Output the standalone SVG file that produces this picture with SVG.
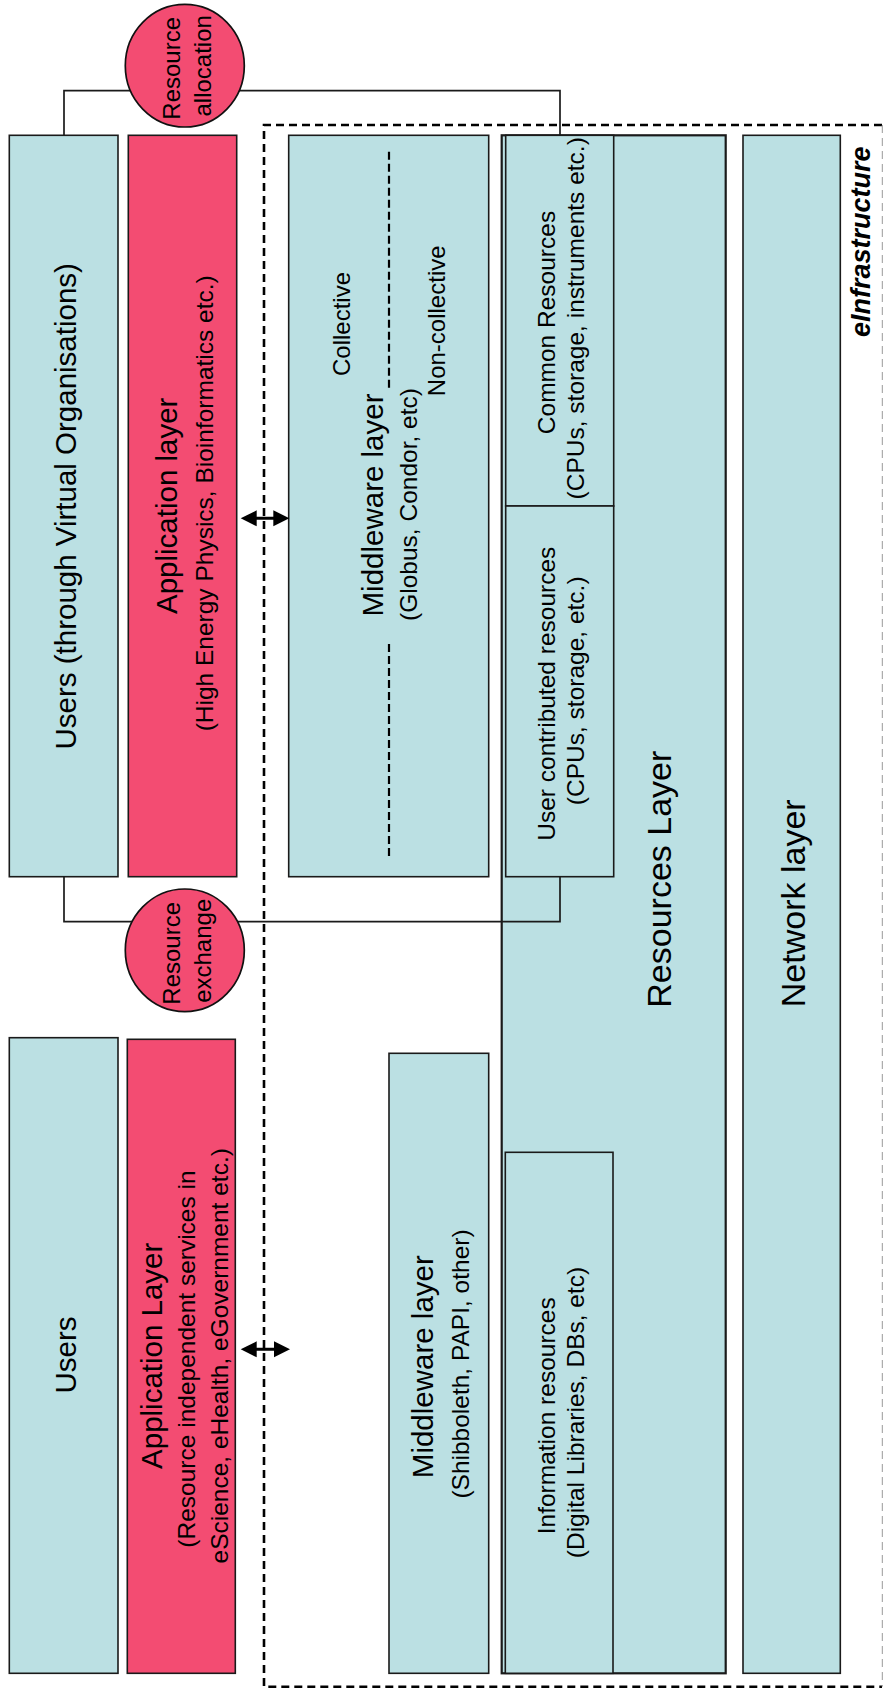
<svg xmlns="http://www.w3.org/2000/svg" width="883" height="1696" viewBox="0 0 883 1696">
<style>
text{font-family:"Liberation Sans",Arial,Helvetica,sans-serif;fill:#000;text-anchor:middle}
.b{fill:#BBE0E3;stroke:#1a1a1a;stroke-width:1.6}
.r{fill:#F34C72;stroke:#1a1a1a;stroke-width:1.6}
.e{fill:#F34C72;stroke:#111;stroke-width:1.7}
.t1{font-size:29.5px}
.t2{font-size:24.5px}
.t3{font-size:24px}
.t4{font-size:34px}
.conn{fill:none;stroke:#1a1a1a;stroke-width:1.7}
.dash{fill:none;stroke:#000;stroke-width:2.6;stroke-dasharray:8,5}
.arr{stroke:#000;stroke-width:3;marker-start:url(#ah);marker-end:url(#ah)}
</style>
<defs>
<marker id="ah" markerUnits="userSpaceOnUse" markerWidth="18" markerHeight="18" viewBox="0 -9 16 18" refX="8" refY="0" orient="auto-start-reverse">
<path d="M0,-8 L16,0 L0,8 z" fill="#000"/>
</marker>
</defs>

<g id="einfrastructure">
<path class="dash" d="M882,125 H264 V1686.7 H882"/>
<line x1="882.3" y1="125" x2="882.3" y2="1686.7" stroke="#999" stroke-width="1" stroke-dasharray="8,5"/>
<text transform="translate(870,241.7) rotate(-90)" style="font-size:27px;font-weight:bold;font-style:italic">eInfrastructure</text>
</g>

<g id="users-vo">
<rect class="b" x="9.3" y="135.3" width="108.7" height="741.4"/>
<text class="t1" transform="translate(76,506.3) rotate(-90)">Users (through Virtual Organisations)</text>
</g>

<g id="app-grid">
<rect class="r" x="128.3" y="135.3" width="108.4" height="741.4"/>
<text class="t1" transform="translate(176.5,505.8) rotate(-90)">Application layer</text>
<text class="t2" transform="translate(213,503.3) rotate(-90)">(High Energy Physics, Bioinformatics etc.)</text>
</g>

<g id="middleware-grid">
<rect class="b" x="288.7" y="135.3" width="200" height="741.4"/>
<line class="dash" x1="389" y1="151.7" x2="389" y2="391.7" style="stroke-width:2.2;stroke-dasharray:8,4"/>
<line class="dash" x1="389" y1="644" x2="389" y2="857.7" style="stroke-width:2.2;stroke-dasharray:8,4"/>
<text class="t3" transform="translate(350,324) rotate(-90)">Collective</text>
<text class="t3" transform="translate(445,320.8) rotate(-90)">Non-collective</text>
<text class="t1" transform="translate(383.3,505) rotate(-90)">Middleware layer</text>
<text class="t2" transform="translate(417,504.5) rotate(-90)">(Globus, Condor, etc)</text>
</g>

<g id="resources-layer">
<rect class="b" x="501.7" y="135.3" width="224" height="1538" style="stroke-width:2.2"/>
<text class="t4" transform="translate(671.3,879.2) rotate(-90)">Resources Layer</text>
</g>

<g id="common-resources">
<rect class="b" x="505.7" y="135.3" width="108" height="370.7"/>
<text class="t2" transform="translate(554.7,322.5) rotate(-90)">Common Resources</text>
<text class="t2" transform="translate(583.7,318.3) rotate(-90)">(CPUs, storage, instruments etc.)</text>
</g>

<g id="user-contributed">
<rect class="b" x="505.7" y="506" width="108" height="370.7"/>
<text class="t2" transform="translate(554.7,693.7) rotate(-90)">User contributed resources</text>
<text class="t2" transform="translate(583.7,690.8) rotate(-90)">(CPUs, storage, etc.)</text>
</g>

<g id="information-resources">
<rect class="b" x="505.3" y="1152.3" width="107.7" height="521"/>
<text class="t2" transform="translate(554.7,1415.8) rotate(-90)">Information resources</text>
<text class="t2" transform="translate(583.7,1412.5) rotate(-90)">(Digital Libraries, DBs, etc)</text>
</g>

<g id="network-layer">
<rect class="b" x="743" y="135.3" width="97.3" height="1538"/>
<text class="t4" transform="translate(804.7,903.3) rotate(-90)">Network layer</text>
</g>

<g id="users">
<rect class="b" x="9.3" y="1037.7" width="108.7" height="635.6"/>
<text class="t1" transform="translate(76,1355) rotate(-90)">Users</text>
</g>

<g id="app-generic">
<rect class="r" x="127.3" y="1039.3" width="108" height="634"/>
<text class="t1" transform="translate(161.7,1355.8) rotate(-90)">Application Layer</text>
<text class="t2" transform="translate(195,1359) rotate(-90)">(Resource independent services in</text>
<text class="t2" transform="translate(228.3,1355.8) rotate(-90)">eScience, eHealth, eGovernment etc.)</text>
</g>

<g id="middleware-generic">
<rect class="b" x="389" y="1053.3" width="99.7" height="620"/>
<text class="t1" transform="translate(433.3,1366.7) rotate(-90)">Middleware layer</text>
<text class="t2" transform="translate(468.5,1364) rotate(-90)">(Shibboleth, PAPI, other)</text>
</g>

<g id="connectors">
<path class="conn" d="M64,135.3 V90.7 H560 V135.3"/>
<path class="conn" d="M64,876.7 V921.7 H560 V876.7"/>
<line class="arr" x1="248.7" y1="518.3" x2="281.3" y2="518.3"/>
<line class="arr" x1="248.7" y1="1349.3" x2="282" y2="1349.3"/>
</g>

<g id="resource-allocation">
<ellipse class="e" cx="184.8" cy="65.7" rx="59.5" ry="61.3"/>
<text class="t3" transform="translate(180,68.3) rotate(-90)">Resource</text>
<text class="t3" transform="translate(210.7,65.8) rotate(-90)">allocation</text>
</g>

<g id="resource-exchange">
<ellipse class="e" cx="184.8" cy="950.3" rx="59.5" ry="61.3"/>
<text class="t3" transform="translate(180,953.3) rotate(-90)">Resource</text>
<text class="t3" transform="translate(210.5,950.8) rotate(-90)">exchange</text>
</g>
</svg>
